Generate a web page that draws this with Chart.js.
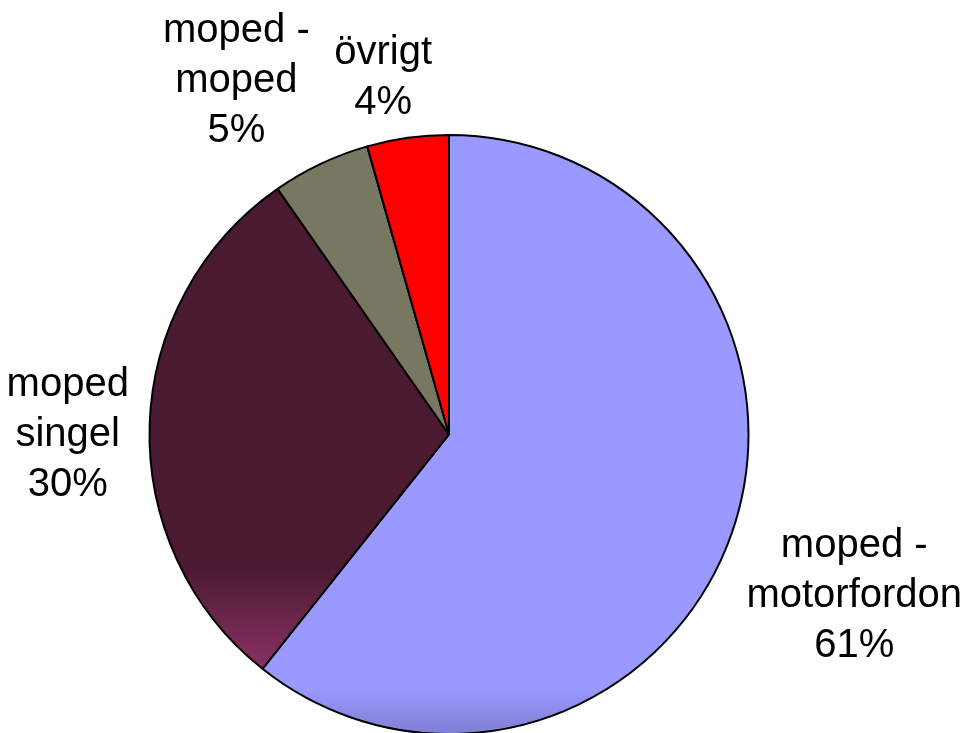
<!DOCTYPE html>
<html>
<head>
<meta charset="utf-8">
<script src="https://cdn.jsdelivr.net/npm/chart.js@4.4.1/dist/chart.umd.min.js"></script>
<style>
  html, body { margin: 0; padding: 0; background: #fff; overflow: hidden; }
  #wrap { position: relative; width: 965px; height: 740px; }
</style>
</head>
<body>
<div id="wrap"><canvas id="chartOlyckor" width="965" height="740"></canvas></div>
<script>
// andel per olyckstyp (procent)
const kategorier = [['moped -', 'motorfordon'], ['moped', 'singel'], ['moped -', 'moped'], ['övrigt']]
const andelar = [60.7, 29.6, 5.3, 4.4]
const farger = ['#9999FF', '#4A1A31', '#777762', '#FF0000']

// var etiketterna står, i radier från mitten
const etikettPlats = [[1.353, 0.54], [-1.273, 0.0], [-0.71, -1.18], [-0.22, -1.19]]

const canvas = document.getElementById('chartOlyckor')
const ctx = canvas.getContext('2d')

const fyllning = (context) => {
    const i = context.dataIndex
    const area = context.chart.chartArea
    if (!area) return farger[i]
    const g = context.chart.ctx
    if (i === 0) {
        const grad = g.createLinearGradient(0, area.top, 0, area.bottom)
        grad.addColorStop(0, '#9999FF')
        grad.addColorStop(0.92, '#9999FF')
        grad.addColorStop(1, '#7E7ED2')
        return grad
    }
    if (i === 1) {
        const grad = g.createLinearGradient(0, area.top, 0, area.bottom)
        grad.addColorStop(0, '#4A1A31')
        grad.addColorStop(0.72, '#4A1A31')
        grad.addColorStop(0.89, '#8A3263')
        grad.addColorStop(1, '#993366')
        return grad
    }
    return farger[i]
}

const etiketter = {
    id: 'etiketter',
    afterDraw(chart) {
        const arc = chart.getDatasetMeta(0).data[0]
        if (!arc) return
        const cx = arc.x, cy = arc.y, r = arc.outerRadius
        const summa = andelar.reduce((a, b) => a + b, 0)
        const c = chart.ctx
        c.save()
        c.fillStyle = '#000'
        c.font = '40px "Liberation Sans", Arial, sans-serif'
        c.textAlign = 'center'
        c.textBaseline = 'middle'
        const radhojd = 50
        andelar.forEach((v, i) => {
            const rader = [...kategorier[i], Math.round(v / summa * 100) + '%']
            const x = cx + etikettPlats[i][0] * r
            const y = cy + etikettPlats[i][1] * r
            const start = y - (rader.length - 1) * radhojd / 2
            rader.forEach((t, k) => c.fillText(t, x, start + k * radhojd))
        })
        c.restore()
    }
}

const chartOlyckor = new Chart(ctx, {
    type: 'pie',
    data: {
        labels: kategorier.map(k => k.join(' ')),
        datasets: [{
            data: andelar,
            backgroundColor: fyllning,
            borderColor: '#000',
            borderWidth: 2,
            borderAlign: 'center'
        }]
    },
    options: {
        responsive: false,
        animation: false,
        layout: { padding: { left: 148, top: 134, right: 215, bottom: 5 } },
        plugins: {
            legend: { display: false },
            tooltip: { enabled: false }
        }
    },
    plugins: [etiketter]
})
</script>
</body>
</html>
